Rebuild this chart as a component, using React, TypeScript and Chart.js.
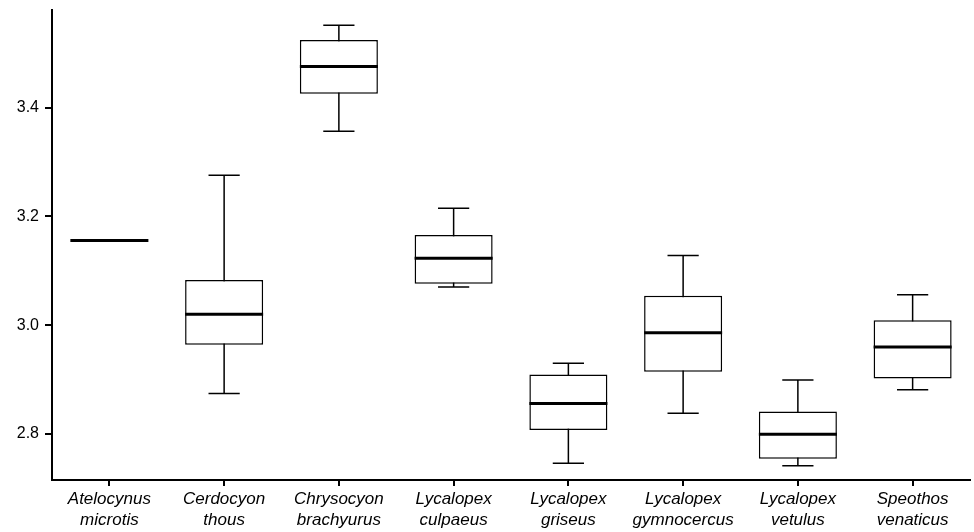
import React, { useEffect, useRef } from "react";
import { Chart, registerables } from "chart.js";

Chart.register(...registerables);

const species: string[][] = [
  ["Atelocynus", "microtis"],
  ["Cerdocyon", "thous"],
  ["Chrysocyon", "brachyurus"],
  ["Lycalopex", "culpaeus"],
  ["Lycalopex", "griseus"],
  ["Lycalopex", "gymnocercus"],
  ["Lycalopex", "vetulus"],
  ["Speothos", "venaticus"],
];
const whiskerMin = [3.156, 2.874, 3.357, 3.070, 2.746, 2.838, 2.741, 2.881];
const quartile1 = [3.156, 2.964, 3.426, 3.076, 2.807, 2.914, 2.754, 2.902];
const medians = [3.156, 3.020, 3.476, 3.123, 2.856, 2.986, 2.799, 2.960];
const quartile3 = [3.156, 3.083, 3.525, 3.166, 2.909, 3.054, 2.841, 3.009];
const whiskerMax = [3.156, 3.276, 3.552, 3.215, 2.930, 3.128, 2.899, 3.056];
const yTickValues = [2.8, 3.0, 3.2, 3.4];

const boxPlugin = {
  id: "boxExtras",
  beforeDatasetsDraw(chart: any) {
    const ctx = chart.ctx;
    const y = chart.scales.y;
    const meta = chart.getDatasetMeta(0);
    ctx.save();
    ctx.strokeStyle = "#000";
    ctx.lineWidth = 1.5;
    meta.data.forEach((bar: any, i: number) => {
      if (whiskerMax[i] === whiskerMin[i]) return;
      const x = bar.x;
      const capHalf = bar.width * 0.2;
      const yTop = y.getPixelForValue(whiskerMax[i]);
      const yBot = y.getPixelForValue(whiskerMin[i]);
      ctx.beginPath();
      ctx.moveTo(x, yTop);
      ctx.lineTo(x, yBot);
      ctx.moveTo(x - capHalf, yTop);
      ctx.lineTo(x + capHalf, yTop);
      ctx.moveTo(x - capHalf, yBot);
      ctx.lineTo(x + capHalf, yBot);
      ctx.stroke();
    });
    ctx.restore();
  },
  afterDatasetsDraw(chart: any) {
    const ctx = chart.ctx;
    const y = chart.scales.y;
    const meta = chart.getDatasetMeta(0);
    ctx.save();
    ctx.strokeStyle = "#000";
    ctx.lineWidth = 3;
    meta.data.forEach((bar: any, i: number) => {
      const half = bar.width / 2;
      const ym = y.getPixelForValue(medians[i]);
      ctx.beginPath();
      ctx.moveTo(bar.x - half, ym);
      ctx.lineTo(bar.x + half, ym);
      ctx.stroke();
    });
    ctx.restore();
  },
};

export default function App() {
  const canvasRef = useRef<HTMLCanvasElement | null>(null);

  useEffect(() => {
    document.body.style.margin = "0";
    const canvas = canvasRef.current;
    if (!canvas) return;
    const chart = new Chart(canvas, {
      type: "bar",
      data: {
        labels: species,
        datasets: [
          {
            data: quartile1.map((q, i) => (q === quartile3[i] ? null : [q, quartile3[i]])) as any,
            backgroundColor: "#ffffff",
            borderColor: "#000000",
            borderWidth: 1.5,
            borderSkipped: false,
            categoryPercentage: 1,
            barPercentage: 0.68,
          },
        ],
      },
      options: {
        animation: false,
        responsive: false,
        maintainAspectRatio: false,
        layout: { padding: { top: 10, right: 4, left: 0, bottom: 0 } },
        plugins: {
          legend: { display: false },
          tooltip: { enabled: false },
        },
        scales: {
          x: {
            grid: {
              offset: false,
              drawOnChartArea: false,
              drawTicks: true,
              tickLength: 6,
              color: "#000",
              lineWidth: 2,
            },
            border: { display: true, color: "#000", width: 2 },
            ticks: {
              color: "#000",
              padding: 3,
              maxRotation: 0,
              autoSkip: false,
              font: { family: "'Liberation Sans', Arial, sans-serif", size: 17, style: "italic", lineHeight: 1.24 },
            },
            afterFit(scale: any) {
              scale.height = 52;
              scale.paddingLeft = 0;
              scale.paddingRight = 0;
            },
          },
          y: {
            min: 2.715,
            max: 3.58,
            grid: {
              drawOnChartArea: false,
              drawTicks: true,
              tickLength: 7,
              color: "#000",
              lineWidth: 2,
            },
            border: { display: true, color: "#000", width: 2 },
            afterBuildTicks(axis: any) {
              axis.ticks = yTickValues.map((v) => ({ value: v }));
            },
            ticks: {
              color: "#000",
              padding: 6,
              font: { family: "'Liberation Sans', Arial, sans-serif", size: 16 },
              callback: (v: any) => Number(v).toFixed(1),
            },
            afterFit(scale: any) {
              scale.width = 52;
              scale.paddingTop = 0;
              scale.paddingBottom = 0;
            },
          },
        },
      },
      plugins: [boxPlugin],
    });
    return () => chart.destroy();
  }, []);

  return (
    <div style={{ width: 974, height: 532, background: "#fff" }}>
      <canvas ref={canvasRef} width={974} height={532} style={{ width: 974, height: 532 }} />
    </div>
  );
}
